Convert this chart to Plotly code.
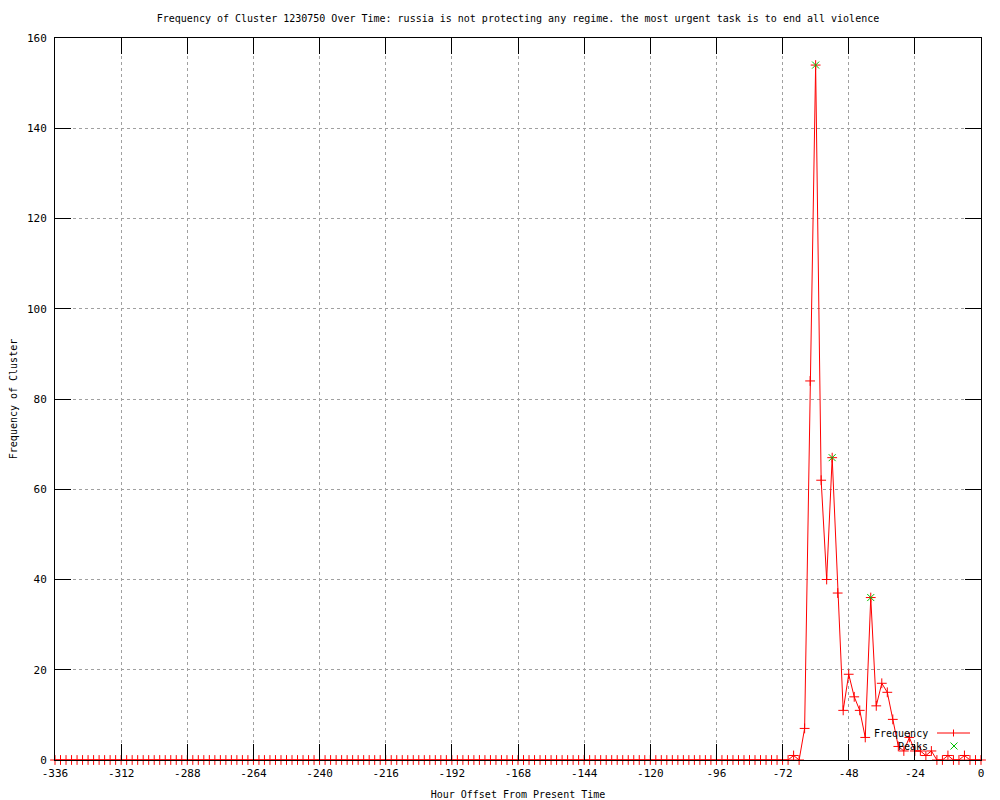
import plotly.graph_objects as go

# Data: hour offsets every 2 hours from -336 to 0
hours = list(range(-336, 1, 2))
nonzero = {
    -68: 1, -66: 0, -64: 7, -62: 84, -60: 154, -58: 62, -56: 40, -54: 67,
    -52: 37, -50: 11, -48: 19, -46: 14, -44: 11, -42: 5, -40: 36, -38: 12,
    -36: 17, -34: 15, -32: 9, -30: 3, -28: 2, -26: 5, -24: 2, -22: 2,
    -20: 1, -18: 2, -16: 0, -14: 0, -12: 1, -10: 0, -8: 0, -6: 1,
    -4: 0, -2: 0, 0: 0,
}
frequency = [nonzero.get(h, 0) for h in hours]

peak_hours = [-60, -54, -40]
peak_values = [154, 67, 36]

x_ticks = list(range(-336, 1, 24))
y_ticks = list(range(0, 161, 20))

title_text = ("Frequency of Cluster 1230750 Over Time: russia is not protecting any regime. "
              "the most urgent task is to end all violence")

FONT = "DejaVu Sans Mono"
OFF = 8  # page body margin
W, H = 992, 792
PW, PH = 926, 722
L, T = 55 - OFF, 38 - OFF
R, B = W - L - PW, H - T - PH

def px(xs):
    # screen x -> paper
    return (xs - OFF - L) / PW

def py(ys):
    # screen y -> paper
    return (T + PH - (ys - OFF)) / PH

fig = go.Figure()
fig.add_trace(go.Scatter(
    x=hours, y=frequency, mode="lines+markers", name="Frequency",
    line=dict(color="#ff0000", width=1),
    marker=dict(symbol="cross-thin", size=7, line=dict(color="#ff0000", width=1)),
    cliponaxis=False, showlegend=False,
))
fig.add_trace(go.Scatter(
    x=peak_hours, y=peak_values, mode="markers", name="Peaks",
    marker=dict(symbol="x-thin", size=7, line=dict(color="#00c000", width=1)),
    cliponaxis=False, showlegend=False,
))

axis_common = dict(
    showline=True, linecolor="black", linewidth=1, mirror="ticks",
    ticks="inside", ticklen=16, tickcolor="black", tickwidth=1,
    showgrid=True, gridcolor="#a0a0a0", gridwidth=1, griddash="dot",
    zeroline=False, automargin=False,
    tickfont=dict(family=FONT, size=11, color="black"),
)

fig.update_xaxes(range=[-336, 0], tickvals=x_ticks,
                 ticktext=[str(v) for v in x_ticks],
                 title=dict(text="Hour Offset From Present Time",
                            font=dict(family=FONT, size=10, color="black"), standoff=12),
                 ticklabelstandoff=3, **axis_common)
fig.update_yaxes(range=[0, 160], tickvals=y_ticks,
                 ticktext=[str(v) for v in y_ticks],
                 title=dict(text="Frequency of Cluster",
                            font=dict(family=FONT, size=10, color="black"), standoff=8),
                 ticklabelstandoff=5, **axis_common)

# Legend (gnuplot-style key)
leg_text_x = px(930)
for label, yy in [("Frequency", 733), ("Peaks", 746)]:
    fig.add_annotation(x=leg_text_x, y=py(yy), xref="paper", yref="paper",
                       text=label, showarrow=False, xanchor="right", yanchor="middle",
                       font=dict(family=FONT, size=10, color="black"))
shapes = []
shapes.append(dict(type="line", xref="paper", yref="paper",
                   x0=px(937), x1=px(970), y0=py(733), y1=py(733),
                   line=dict(color="#ff0000", width=1)))
shapes.append(dict(type="line", xref="paper", yref="paper",
                   x0=px(953.5), x1=px(953.5), y0=py(729.5), y1=py(736.5),
                   line=dict(color="#ff0000", width=1)))
shapes.append(dict(type="line", xref="paper", yref="paper",
                   x0=px(950.5), x1=px(957.5), y0=py(742.5), y1=py(749.5),
                   line=dict(color="#00c000", width=1)))
shapes.append(dict(type="line", xref="paper", yref="paper",
                   x0=px(950.5), x1=px(957.5), y0=py(749.5), y1=py(742.5),
                   line=dict(color="#00c000", width=1)))

fig.update_layout(
    width=W, height=H,
    margin=dict(l=L, r=R, t=T, b=B, autoexpand=False),
    paper_bgcolor="white", plot_bgcolor="white",
    title=dict(text=title_text, x=(518 - OFF) / W, xanchor="center",
               y=1 - (18 - OFF) / H, yanchor="middle", yref="container",
               font=dict(family=FONT, size=10, color="black")),
    shapes=shapes,
    showlegend=False,
)

fig.write_html("out.html")
